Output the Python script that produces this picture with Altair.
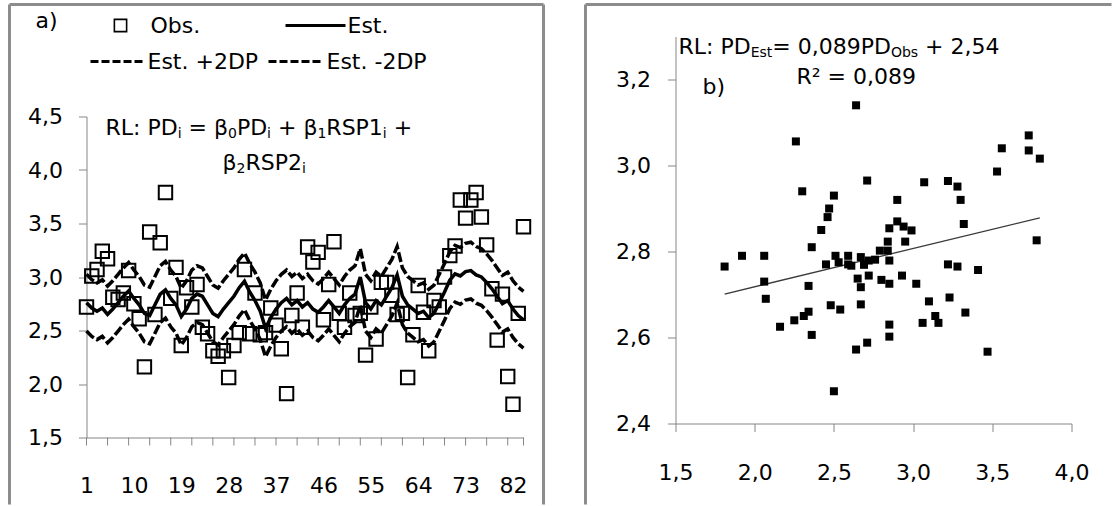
import altair as alt
import pandas as pd

# ---------------- panel a: observed vs estimated, by observation ----------------
obs = [2.72, 3.01, 3.07, 3.24, 3.17, 2.81, 2.79, 2.85, 3.06, 2.75,
       2.61, 2.16, 3.42, 2.65, 3.32, 3.79, 2.80, 3.09, 2.36, 2.90,
       2.72, 2.93, 2.53, 2.47, 2.31, 2.26, 2.31, 2.06, 2.36, 2.48,
       3.07, 2.47, 2.85, 2.46, 2.48, 2.71, 2.55, 2.33, 1.91, 2.64,
       2.85, 2.53, 3.28, 3.14, 3.23, 2.60, 2.93, 3.33, 2.66, 2.53,
       2.85, 2.64, 2.66, 2.27, 2.72, 2.42, 2.95, 2.95, 2.83, 2.65,
       2.66, 2.06, 2.46, 2.92, 2.67, 2.31, 2.78, 2.72, 3.00, 3.20,
       3.29, 3.72, 3.55, 3.72, 3.79, 3.56, 3.30, 2.89, 2.41, 2.84,
       2.07, 1.81, 2.66, 3.47]
est = [2.76, 2.71, 2.68, 2.71, 2.65, 2.70, 2.76, 2.82, 2.87, 2.80,
       2.74, 2.66, 2.64, 2.74, 2.84, 2.88, 2.80, 2.74, 2.63, 2.70,
       2.80, 2.84, 2.82, 2.74, 2.66, 2.63, 2.70, 2.76, 2.82, 2.90,
       2.96, 2.86, 2.78, 2.68, 2.52, 2.62, 2.70, 2.76, 2.80, 2.74,
       2.78, 2.72, 2.76, 2.70, 2.67, 2.72, 2.78, 2.72, 2.66, 2.74,
       2.80, 2.84, 3.00, 2.76, 2.70, 2.78, 2.74, 2.82, 2.90, 3.02,
       2.82, 2.74, 2.70, 2.66, 2.68, 2.62, 2.66, 2.76, 2.86, 2.97,
       3.03, 3.01, 3.05, 3.06, 3.02, 3.00, 2.95, 2.89, 2.82, 2.75,
       2.78, 2.70, 2.64, 2.60]
DP2 = 0.265  # two standard deviations of the estimate

x_labels_a = [1, 10, 19, 28, 37, 46, 55, 64, 73, 82]
x_ticks_a = list(range(1, 82, 4)) + [84]
y_ticks_a = [1.5, 2.0, 2.5, 3.0, 3.5, 4.0, 4.5]

# ---------------- panel b: estimated vs observed ----------------
pd_obs = [1.81, 1.92, 2.06, 2.06, 2.07, 2.16, 2.25, 2.31, 2.34, 2.34,
          2.36, 2.36, 2.26, 2.30, 2.42, 2.46, 2.47, 2.50, 2.45, 2.51,
          2.53, 2.59, 2.59, 2.48, 2.54, 2.50,
          2.64, 3.73, 3.56, 3.73, 3.80, 3.53, 2.71, 3.07, 3.22, 3.28,
          2.90, 3.30, 2.90, 2.85, 2.94, 2.99, 3.32, 2.84, 2.95, 2.84,
          2.79, 2.76, 2.85, 2.67, 2.61, 2.69, 2.72, 2.65, 2.72, 2.80,
          2.85, 2.67, 2.93, 3.02, 3.22, 3.28, 3.41, 3.78, 2.67, 3.10,
          3.23, 3.33, 3.14, 3.16, 3.06, 2.85, 2.85, 2.71, 2.64, 3.47]
pd_est = [2.765, 2.79, 2.79, 2.73, 2.69, 2.625, 2.64, 2.65, 2.66, 2.72,
          2.606, 2.81, 3.056, 2.94, 2.85, 2.88, 2.90, 2.93, 2.77, 2.79,
          2.775, 2.79, 2.77, 2.675, 2.665, 2.475,
          3.14, 3.07, 3.04, 3.035, 3.016, 2.986, 2.965, 2.961, 2.964, 2.951,
          2.92, 2.92, 2.87, 2.854, 2.858, 2.849, 2.864, 2.823, 2.823, 2.802,
          2.802, 2.781, 2.779, 2.787, 2.767, 2.769, 2.779, 2.737, 2.744, 2.734,
          2.725, 2.717, 2.744, 2.725, 2.77, 2.765, 2.757, 2.826, 2.677, 2.684,
          2.693, 2.658, 2.65, 2.634, 2.634, 2.63, 2.602, 2.588, 2.572, 2.567]
SLOPE, INTERCEPT = 0.089, 2.54

x_ticks_b = [1.5, 2.0, 2.5, 3.0, 3.5, 4.0]
y_ticks_b = [2.4, 2.6, 2.8, 3.0, 3.2]

# ---------------- styling ----------------
FONT = "DejaVu Sans"
FS = 22
SUB = 14
AXIS_GRAY = "#868686"
FRAME_GRAY = "#8c8c8c"
COMMA = "replace(format(datum.value, '.1f'), '.', ',')"

# advance widths (em) of the glyphs used in the equations, for placing subscripts
EM = {"R": .695, "L": .557, ":": .337, " ": .318, "P": .603, "D": .770, "E": .632,
      "s": .521, "t": .392, "=": .838, "+": .838, ",": .318, "O": .787, "b": .635,
      "S": .635, "i": .278, "β": .637}
EM.update({d: .636 for d in "0123456789"})

# both panels share the same top edge for their plot origin (y = 116 on the page)
OY = 116


def label(text, x, y, size=FS, align="left"):
    return alt.Chart(pd.DataFrame({"t": [text]})).mark_text(
        font=FONT, fontSize=size, align=align, baseline="middle", color="black"
    ).encode(x=alt.value(x), y=alt.value(y), text="t:N")


def equation(pieces, x, y):
    """Lay out (text, is_subscript) pieces one after another."""
    out = []
    for txt, sub in pieces:
        size = SUB if sub else FS
        lead = len(txt) - len(txt.lstrip(" "))
        body = txt.strip(" ")
        if body:
            out.append(label(body, x + lead * EM[" "] * size, y + (6 if sub else 0), size=size))
        x += sum(EM[c] for c in txt) * size
    return out


def segment(x1, y1, x2, y2, width=3.0, dash=None, color="black"):
    kw = dict(color=color, strokeWidth=width)
    if dash:
        kw["strokeDash"] = dash
    return alt.Chart(pd.DataFrame({"k": [0]})).mark_rule(**kw).encode(
        x=alt.value(x1), x2=alt.value(x2), y=alt.value(y1), y2=alt.value(y2)
    )


# ================= panel a =================
W1, H1 = 437, 321
OX1 = 86
df_a = pd.DataFrame({"i": list(range(1, len(obs) + 1)), "obs": obs, "est": est})
df_a["sup"] = df_a["est"] + DP2
df_a["inf"] = df_a["est"] - DP2

xs_a = alt.Scale(domain=[1, 84], nice=False, zero=False)
ys_a = alt.Scale(domain=[1.5, 4.5], nice=False, zero=False)
xax_a = alt.Axis(values=x_labels_a, ticks=False, labelPadding=38, domainColor=AXIS_GRAY,
                 grid=False, title=None, labelFlush=False,
                 labelFont=FONT, labelFontSize=FS, labelColor="black")
yax_a = alt.Axis(values=y_ticks_a, labelExpr=COMMA, tickSize=8, tickColor=AXIS_GRAY,
                 domainColor=AXIS_GRAY, labelPadding=16, grid=False, title=None,
                 labelFont=FONT, labelFontSize=FS, labelColor="black")


def enc_a(field):
    return dict(x=alt.X("i:Q", scale=xs_a, axis=xax_a),
                y=alt.Y(f"{field}:Q", scale=ys_a, axis=yax_a))


base_a = alt.Chart(df_a)
est_line = base_a.mark_line(color="black", strokeWidth=3.5).encode(**enc_a("est"))
sup_line = base_a.mark_line(color="black", strokeWidth=3.5, strokeDash=[10, 3]).encode(**enc_a("sup"))
inf_line = base_a.mark_line(color="black", strokeWidth=3.5, strokeDash=[10, 3]).encode(**enc_a("inf"))
obs_pts = base_a.mark_point(shape="square", size=180, filled=False, color="black",
                            strokeWidth=2, opacity=1).encode(**enc_a("obs"))

ticks_a = alt.Chart(pd.DataFrame({"t": x_ticks_a})).mark_rule(color=AXIS_GRAY).encode(
    x=alt.X("t:Q", scale=xs_a, axis=xax_a), y=alt.value(H1), y2=alt.value(H1 + 8)
)

legend_a = [
    label("a)", 35 - OX1, 20 - OY),
    alt.Chart(pd.DataFrame({"k": [0]})).mark_point(
        shape="square", size=150, filled=False, color="black", strokeWidth=1.6, opacity=1
    ).encode(x=alt.value(120 - OX1), y=alt.value(25 - OY)),
    label("Obs.", 150 - OX1, 25 - OY),
    segment(285 - OX1, 25 - OY, 345 - OX1, 25 - OY),
    label("Est.", 347 - OX1, 25 - OY),
    segment(90 - OX1, 61 - OY, 145 - OX1, 61 - OY, dash=[8, 3]),
    label("Est. +2DP", 147 - OX1, 61 - OY),
    segment(268 - OX1, 61 - OY, 323 - OX1, 61 - OY, dash=[8, 3]),
    label("Est. -2DP", 326 - OX1, 61 - OY),
]
legend_a += equation([("RL: PD", 0), ("i", 1), (" = β", 0), ("0", 1), ("PD", 0), ("i", 1),
                      (" + β", 0), ("1", 1), ("RSP1", 0), ("i", 1), (" +", 0)],
                     105 - OX1, 127 - OY)
legend_a += equation([("β", 0), ("2", 1), ("RSP2", 0), ("i", 1)], 222 - OX1, 162 - OY)

# panel border (bottom edge runs off the page)
frame_a = [
    segment(9 - OX1, 4 - OY, 9 - OX1, 504 - OY, color=FRAME_GRAY),
    segment(9 - OX1, 4 - OY, 543 - OX1, 4 - OY, color=FRAME_GRAY),
    segment(543 - OX1, 4 - OY, 543 - OX1, 504 - OY, color=FRAME_GRAY),
]

panel_a = alt.layer(
    *frame_a, ticks_a, sup_line, inf_line, est_line, obs_pts, *legend_a
).properties(width=W1, height=H1)

# ================= panel b =================
# plot area spans y = 36 (3,3) to y = 423 (2,4); the view starts at OY, so the
# y range reaches above the view's top edge
OX2 = 674
W2 = 396
H2 = 423 - OY
df_b = pd.DataFrame({"obs": pd_obs, "est": pd_est})
x_lo, x_hi = min(pd_obs), max(pd_obs)
df_fit = pd.DataFrame({"obs": [x_lo, x_hi],
                       "est": [SLOPE * x_lo + INTERCEPT, SLOPE * x_hi + INTERCEPT]})

xs_b = alt.Scale(domain=[1.5, 4.0], nice=False, zero=False)
ys_b = alt.Scale(domain=[2.4, 3.3], range=[H2, 36 - OY], nice=False, zero=False)
xax_b = alt.Axis(values=x_ticks_b, labelExpr=COMMA, tickSize=8, tickColor=AXIS_GRAY,
                 domainColor=AXIS_GRAY, labelPadding=31, grid=False, title=None,
                 labelFlush=False, labelFont=FONT, labelFontSize=FS, labelColor="black")
yax_b = alt.Axis(values=y_ticks_b, labelExpr=COMMA, tickSize=8, tickColor=AXIS_GRAY,
                 domainColor=AXIS_GRAY, labelPadding=17, grid=False, title=None,
                 labelFont=FONT, labelFontSize=FS, labelColor="black")
enc_b = dict(x=alt.X("obs:Q", scale=xs_b, axis=xax_b), y=alt.Y("est:Q", scale=ys_b, axis=yax_b))

pts_b = alt.Chart(df_b).mark_square(size=64, color="black", opacity=1).encode(**enc_b)
fit_b = alt.Chart(df_fit).mark_line(color="#3a3a3a", strokeWidth=1.3).encode(**enc_b)

notes_b = equation([("RL: PD", 0), ("Est", 1), ("= 0,089PD", 0), ("Obs", 1), (" + 2,54", 0)],
                   677 - OX2, 46 - OY)
notes_b += [
    label("R² = 0,089", 795 - OX2, 76 - OY),
    label("b)", 701 - OX2, 86 - OY),
]

frame_b = [
    segment(584 - OX2, 4 - OY, 584 - OX2, 504 - OY, color=FRAME_GRAY),
    segment(584 - OX2, 4 - OY, 1110 - OX2, 4 - OY, color=FRAME_GRAY),
]

panel_b = alt.layer(*frame_b, fit_b, pts_b, *notes_b).properties(width=W2, height=H2)

chart = alt.hconcat(panel_a, panel_b, spacing=38).properties(
    padding={"left": 7.5, "top": 2.5, "right": 0, "bottom": 0}
).configure_view(stroke=None)

chart.save("out.html", embed_options={"renderer": "svg", "actions": False})
